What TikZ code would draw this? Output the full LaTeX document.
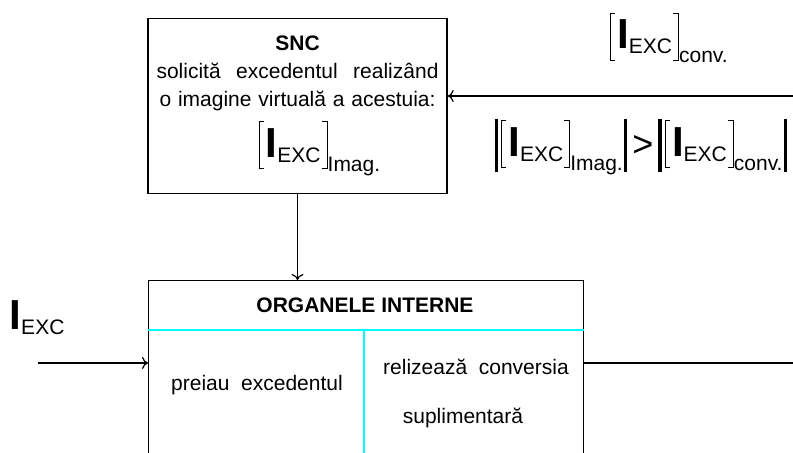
\documentclass[tikz,border=0pt]{standalone}
\usepackage{fontspec}
\setmainfont{Liberation Sans}
\usepackage{tikz}
\usetikzlibrary{calc,arrows.meta}

\definecolor{linecyan}{RGB}{0,255,255}
\newcommand{\Iexc}{{\fontsize{21}{21}\selectfont\bfseries I}\raisebox{-2.5pt}{EXC}}
\newcommand{\lbr}{\rlap{\rule[-6pt]{2.5pt}{0.5pt}}\rlap{\rule[17.5pt]{2.5pt}{0.5pt}}\rule[-6pt]{0.5pt}{24pt}}
\newcommand{\rbr}{\llap{\rule[-6pt]{2.5pt}{0.5pt}}\llap{\rule[17.5pt]{2.5pt}{0.5pt}}\rule[-6pt]{0.5pt}{24pt}}
\newcommand{\brk}[2]{\lbr\hspace{3pt}#1\hspace{3pt}\rbr\raisebox{-7pt}{#2}}
\newcommand{\absbar}{\rule[-8pt]{1.8pt}{26.5pt}}

\begin{document}
\begin{tikzpicture}[x=0.5pt, y=-0.5pt, font=\fontsize{10.5}{14}\selectfont, line width=0.6pt,
    >={To[length=3pt, width=6pt]},
    box/.style={draw, line width=0.7pt, inner sep=0pt},
    divider/.style={draw=linecyan, line width=0.8pt}]
        \useasboundingbox (0,0) rectangle (793,453);
        \clip (0,0) rectangle (793,453);

        \node [box, minimum width=149.5pt, minimum height=87.5pt, align=center] (snc) at (297.5,106)
            {\textbf{SNC}\\
             \makebox[141pt][s]{solicită excedentul realizând}\\
             \makebox[138pt][s]{o imagine virtuală a acestuia:}\\[4pt]
             \hspace*{22pt}\brk{\Iexc}{Imag.}};
        \node [box, anchor=north west, minimum width=217.5pt, minimum height=110pt] (org) at (148,280) {};

        \node [inner sep=0pt] (conv) at (669,38) {\brk{\Iexc}{conv.}};
        \node [inner sep=0pt] (ineq) at (641,147)
            {\absbar\hspace{1.5pt}\brk{\Iexc}{Imag.}\hspace{0.5pt}\absbar\hspace{2.5pt}{\fontsize{18}{18}\selectfont >}\hspace{2.5pt}\absbar\hspace{1.5pt}\brk{\Iexc}{conv.}\hspace{0.5pt}\absbar};
        \node (iexc) at (37,318) {\Iexc};

        \node (title) at (365,305) {\textbf{ORGANELE INTERNE}};
        \node (preiau) at (257,385) {preiau\ \ excedentul};
        \node (conv1) at (476,367) {relizează\ \ conversia};
        \node (conv2) at (463,418) {suplimentară};

        \coordinate (hl) at (148,330);
        \coordinate (vl) at (364,330);
        \coordinate (convin) at (793,96);
        \coordinate (iin) at (38,363);
        \coordinate (out) at (793,363);

        \draw [divider] (hl) -- (hl -| org.east);
        \draw [divider] (vl) -- (vl |- org.south);

        \draw [->] (convin) -- (convin -| snc.east);
        \draw [->] (snc.south) -- (snc.south |- org.north);
        \draw [->] (iin) -- (iin -| org.west);
        \draw (org.east |- out) -- (out);
    \end{tikzpicture}
\end{document}
